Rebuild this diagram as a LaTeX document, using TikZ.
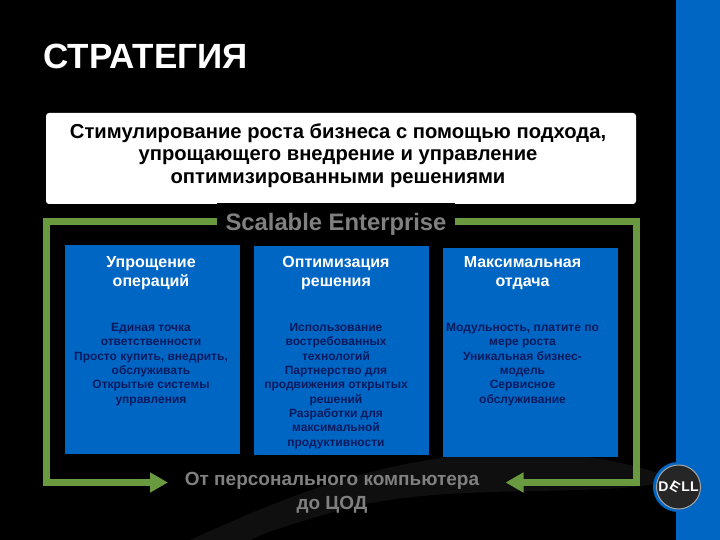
\documentclass[tikz,border=0pt]{standalone}
\usepackage{fontspec}
\usepackage{graphicx}
\setmainfont{Liberation Sans}
\usetikzlibrary{arrows.meta}
\definecolor{dellblue}{HTML}{0066C4}
\definecolor{dellgreen}{HTML}{6A9A3F}
\definecolor{darknavy}{HTML}{0B1A5C}
\definecolor{labelgray}{HTML}{808080}
\tikzset{
  bluebox/.style={fill=dellblue,minimum width=175pt,minimum height=209pt,inner sep=0pt},
  headtext/.style={text=white,font=\fontsize{16}{19}\selectfont\bfseries,align=center,inner sep=0pt},
  bodytext/.style={text=darknavy,font=\fontsize{12}{14.35}\selectfont\bfseries,align=center,inner sep=0pt,anchor=north},
  greenline/.style={draw=dellgreen,line width=7pt,-{Triangle[length=18pt,width=19pt]}}
}
\begin{document}
\begin{tikzpicture}[x=1pt,y=-1pt]
  \useasboundingbox (0,0) rectangle (720,540);
  \fill[black] (0,0) rectangle (720,540);
  \fill[white!6!black] (190,540) .. controls (300,490) and (380,460) .. (500,452) .. controls (580,450) and (640,465) .. (676,480) .. controls (600,500) and (450,480) .. (340,510) .. controls (300,522) and (270,530) .. (250,540) -- cycle;
  \fill[dellblue] (676,0) rectangle (720,540);

  \node[text=white,font=\fontsize{35}{35}\selectfont\bfseries,anchor=west,inner sep=0pt] (title) at (43,56) {СТРАТЕГИЯ};

  \node[fill=white,rounded corners=3pt,minimum width=590pt,minimum height=91pt,inner sep=0pt] (goal) at (341,158.5) {};
  \node[text=black,font=\fontsize{20.2}{22.5}\selectfont\bfseries,align=center,inner sep=0pt] (goaltext) at (338,155.5) {Стимулирование роста бизнеса с помощью подхода,\\упрощающего внедрение и управление\\оптимизированными решениями};

  \node[fill=black,text=labelgray,font=\fontsize{23.8}{26}\selectfont\bfseries,minimum width=238pt,minimum height=42pt,inner sep=0pt] (scalable) at (336,224) {Scalable Enterprise};
  \node[text=labelgray,font=\fontsize{19}{24}\selectfont\bfseries,align=center,inner sep=0pt] (fromto) at (332,493) {От персонального компьютера\\до ЦОД};

  \begin{scope}[every node/.style={bluebox}]
    \node (box1) at (152.5,349.5) {};
    \node (box2) at (341.5,350) {};
    \node (box3) at (530.5,352) {};
  \end{scope}

  \begin{scope}[every node/.style={headtext}]
    \node (head1) at (151,273.5) {Упрощение\\операций};
    \node (head2) at (336,273.5) {Оптимизация\\решения};
    \node (head3) at (522.5,273.5) {Максимальная\\отдача};
  \end{scope}

  \begin{scope}[every node/.style={bodytext}]
    \node (body1) at (151,323) {Единая точка\\ответственности\\Просто купить, внедрить,\\обслуживать\\Открытые системы\\управления};
    \node (body2) at (336,323) {Использование\\востребованных\\технологий\\Партнерство для\\продвижения открытых\\решений\\Разработки для\\максимальной\\продуктивности};
    \node (body3) at (522.5,323) {Модульность, платите по\\мере роста\\Уникальная бизнес-\\модель\\Сервисное\\обслуживание};
  \end{scope}

  \coordinate (lefttop) at (46.5,221.5);
  \coordinate (leftend) at (168,482.5);
  \coordinate (righttop) at (636,221.5);
  \coordinate (rightend) at (505.5,482.5);
  \draw[greenline] (scalable.east |- lefttop) -- (righttop) -- (righttop |- rightend) -- (rightend);
  \draw[greenline] (scalable.west |- lefttop) -- (lefttop) -- (lefttop |- leftend) -- (leftend);

  \node[circle,fill=dellblue,minimum size=50pt,inner sep=0pt] (logoring) at (678,487) {};
  \node[circle,fill=black!85,draw=black!35,line width=1pt,minimum size=44pt,inner sep=0pt,text=white,font=\fontsize{14}{14}\selectfont\bfseries] (logo) at (678.5,487) {D\rotatebox[origin=c]{-30}{E}LL};
\end{tikzpicture}
\end{document}
